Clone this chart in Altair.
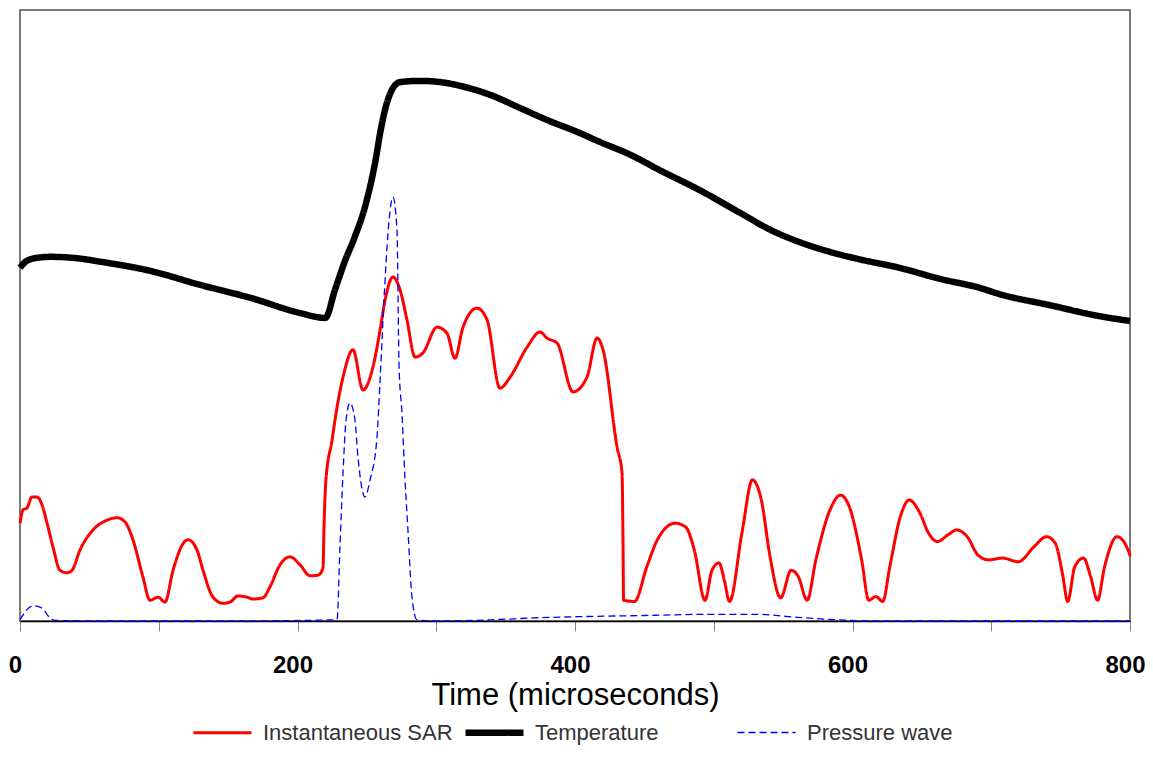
import altair as alt
import pandas as pd

# ---- data (arbitrary units 0-100) ----
sar_t = [0, 2.2, 5, 8.6, 12.3, 15.9, 19.5, 23.8, 28.8, 33.9, 37.5, 43.2, 52.6, 62.7, 69.9,
         75.7, 81.4, 88.6, 93.7, 99.5, 104.5, 110.3, 116.8, 121.1, 127.6, 131.9, 139.1,
         146.3, 151.4, 157.1, 163.6, 167.9, 175.1, 180.2, 187.4, 194.6, 201.8, 209, 214.8,
         218.4, 219.1, 220.5, 224.9, 228.5, 232.8, 240, 247.2, 254.4, 259.5, 263.1, 268.8,
         273.9, 278.9, 284.7, 290.5, 300.5, 307.7, 313.5, 319.3, 329.4, 336.6, 345.9, 353.2,
         365.4, 374.8, 379.8, 387, 398.6, 408.6, 415.9, 420.2, 430.3, 433.9, 434.6, 435,
         442.9, 451.8, 459.4, 472.1, 479.7, 486, 493.7, 498.7, 503.8, 507.6, 511.4, 520.3,
         527.9, 534.3, 540.6, 548.2, 555.8, 560.9, 567.3, 573.6, 583.8, 591.4, 597.7, 606.6,
         611.7, 616.8, 621.8, 626.9, 634.5, 640.9, 648.5, 654.8, 661.2, 668.8, 675.1, 682.7,
         690.4, 698, 708.1, 719.5, 731, 739.8, 746.2, 751.3, 755.1, 760.2, 766.5, 771.6,
         776.6, 781.7, 790.6, 799.5, 800]
sar_v = [16.0, 18.2, 18.5, 20.3, 20.3, 19.0, 16.0, 12.1, 8.3, 7.9, 8.3, 11.6, 14.9, 16.5, 16.9,
         16.2, 13.3, 7.2, 3.4, 3.9, 3.1, 8.3, 12.4, 13.3, 11.6, 8.3, 3.9,
         2.9, 3.1, 4.1, 3.9, 3.6, 3.8, 5.6, 9.2, 10.5, 9.2, 7.4, 7.5,
         8.7, 15.4, 23.1, 29.6, 35.0, 39.9, 44.4, 37.8, 41.6, 47.6, 52.5, 56.3,
         54.2, 49.3, 43.2, 43.9, 48.1, 47.1, 43.0, 48.1, 51.2, 49.3, 38.1, 39.9,
         44.8, 47.3, 46.3, 45.5, 37.5, 39.9, 46.3, 44.4, 28.5, 24.2, 13.1, 3.4,
         3.2, 8.9, 13.3, 16.0, 15.4, 11.6, 3.4, 8.3, 9.5, 6.7, 3.2, 14.4,
         23.1, 19.8, 10.5, 3.8, 8.3, 7.3, 3.4, 10.0, 18.2, 20.6, 18.7, 10.0,
         3.4, 4.0, 3.2, 8.9, 17.1, 19.8, 17.7, 14.4, 13.0, 14.1, 14.9, 13.8,
         10.8, 10.0, 10.3, 9.7, 12.2, 13.8, 12.7, 7.8, 3.2, 8.9, 10.3, 7.3,
         3.4, 8.9, 13.8, 11.1, 10.6]

temp_t = [0, 4, 11, 22, 40, 58, 94, 130, 166, 202, 220, 227, 234, 241, 249, 256, 260, 263,
          268, 274, 288, 303, 317, 339, 360, 382, 400, 418, 440, 461, 490, 519, 541, 562,
          584, 605, 634, 663, 692, 706, 742, 778, 800]
temp_v = [57.8, 58.8, 59.4, 59.6, 59.4, 58.8, 57.3, 55.0, 52.9, 50.4, 49.6, 54.2, 58.8, 62.7,
          68.1, 75.1, 80.4, 83.6, 86.9, 88.2, 88.4, 88.2, 87.6, 86.1, 84.0, 81.8, 80.2, 78.4,
          76.3, 73.8, 70.5, 66.8, 64.0, 62.0, 60.4, 59.2, 57.8, 56.0, 54.5, 53.5, 51.7, 49.9,
          49.1]

press_t = [0, 9.4, 15.9, 21.6, 25.2, 60, 150, 228.5, 230.6, 232.8, 235, 237.8, 241.4, 243.6,
           248.6, 252.3, 257.3, 259.5, 263.1, 266, 268.8, 271.7, 273.2, 275.3, 277.5, 279.6,
           282.5, 286.1, 300, 340, 370, 450, 500, 530, 560, 580, 620, 700, 800]
press_v = [0.2, 2.5, 2.1, 0.5, 0.1, 0, 0, 0.2, 12.1, 24.2, 32.9, 35.7, 32.9, 26.8,
           20.3, 23.1, 30.1, 39.4, 55.8, 65.6, 69.4, 64.0, 41.6, 34.0, 23.1, 14.9,
           3.9, 0.2, 0, 0.2, 0.5, 0.9, 1.1, 1.1, 0.6, 0.3, 0, 0, 0]

series_names = ["Instantaneous SAR", "Temperature", "Pressure wave"]
series_colors = ["#ff0000", "#000000", "#0000ff"]
series_widths = [3, 6.5, 1.3]
series_dashes = [[1, 0], [1, 0], [7, 4]]
x_ticks = [0, 100, 200, 300, 400, 500, 600, 700, 800]

frames = []
for name, tt, vv in [(series_names[0], sar_t, sar_v),
                     (series_names[1], temp_t, temp_v),
                     (series_names[2], press_t, press_v)]:
    frames.append(pd.DataFrame({"t": tt, "v": vv, "series": name}))
df = pd.concat(frames, ignore_index=True)
df["order"] = df["series"].map({n: i for i, n in enumerate(series_names)})

FONT = "Liberation Sans"

legend = alt.Legend(
    title=None, orient="none", legendX=170, legendY=690, direction="horizontal",
    columns=3, gridAlign="all", symbolType="stroke", symbolSize=3364,
    labelFontSize=22, labelFont=FONT, labelColor="#333333", labelOffset=8,
    columnPadding=-1, labelLimit=400,
)

chart = alt.Chart(df).mark_line(interpolate="monotone", strokeJoin="round").encode(
    x=alt.X("t:Q", scale=alt.Scale(domain=[0, 800], nice=False, zero=False),
            axis=alt.Axis(values=x_ticks,
                          labelExpr="datum.value % 200 === 0 ? datum.label : ''",
                          title="Time (microseconds)", grid=False,
                          tickSize=10, tickColor="#888888", tickWidth=1,
                          domainColor="#000000", domainWidth=1.5,
                          labelFont=FONT, labelFontSize=24, labelColor="#000000",
                          labelFontWeight="bold",
                          labelPadding=22, labelFlush=False, labelOffset=-5,
                          labelOverlap=False,
                          titleFont=FONT, titleFontSize=31, titleFontWeight="normal",
                          titleColor="#000000", titlePadding=3)),
    y=alt.Y("v:Q", scale=alt.Scale(domain=[0, 100], nice=False), axis=None),
    color=alt.Color("series:N", scale=alt.Scale(domain=series_names, range=series_colors),
                    legend=legend),
    strokeWidth=alt.StrokeWidth("series:N",
                                scale=alt.Scale(type="ordinal", domain=series_names,
                                                range=series_widths),
                                legend=legend),
    strokeDash=alt.StrokeDash("series:N",
                              scale=alt.Scale(domain=series_names, range=series_dashes),
                              legend=legend),
    detail="series:N",
    order="order:Q",
).properties(
    width=1110, height=611,
    autosize=alt.AutoSizeParams(type="none"),
    padding={"left": 12, "top": 2, "right": 15, "bottom": 125},
).configure_view(
    stroke="#505050", strokeWidth=1.5
)

chart.save("out.html", embed_options={"renderer": "svg", "actions": False})
